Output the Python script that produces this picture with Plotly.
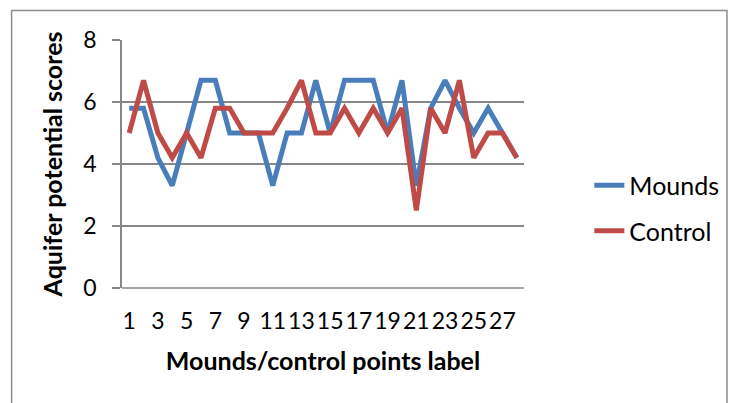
import plotly.graph_objects as go

# Aquifer potential scores at each mound and its paired control point
labels = list(range(1, 29))
mounds = [5.8, 5.8, 4.2, 3.3, 5.0, 6.7, 6.7, 5.0, 5.0, 5.0, 3.3, 5.0, 5.0, 6.7,
          5.0, 6.7, 6.7, 6.7, 5.0, 6.7, 3.3, 5.8, 6.7, 5.8, 5.0, 5.8, 5.0, 4.2]
control = [5.0, 6.7, 5.0, 4.2, 5.0, 4.2, 5.8, 5.8, 5.0, 5.0, 5.0, 5.8, 6.7, 5.0,
           5.0, 5.8, 5.0, 5.8, 5.0, 5.8, 2.5, 5.8, 5.0, 6.7, 4.2, 5.0, 5.0, 4.2]
tick_labels = list(range(1, 29, 2))

FONT = "Lato"
GRID = "#878787"

fig = go.Figure()
fig.add_trace(go.Scatter(x=labels, y=mounds, mode="lines", name="Mounds",
                         legendgroup="m",
                         line=dict(color="#4A7EBB", width=5)))
fig.add_trace(go.Scatter(x=labels, y=control, mode="lines", name="Control",
                         legendgroup="c",
                         line=dict(color="#BE4B48", width=5)))

# plot area in pixels: x 122..528, y 40..288
L, R, T, B = 122, 528, 40, 288
W, H = R - L, B - T

def px(xp):
    return (xp - L) / W

def py(yp):
    return (B - yp) / H

fig.update_layout(
    width=736, height=403,
    margin=dict(l=L, r=736 - R, t=T, b=403 - B),
    paper_bgcolor="white", plot_bgcolor="white",
    font=dict(family=FONT, size=23, color="black"),
    showlegend=True,
    legend=dict(x=px(594), y=py(208), xanchor="left", yanchor="middle",
                tracegroupgap=10, font=dict(size=25),
                bgcolor="rgba(0,0,0,0)"),
    xaxis=dict(
        range=[0.5, 28.5], tickvals=tick_labels, ticktext=[str(t) for t in tick_labels],
        showgrid=False, zeroline=False, showline=False, ticks="",
        ticklabelstandoff=17, tickfont=dict(size=23),
        title=dict(text="<b>Mounds/control points label</b>", font=dict(size=25),
                   standoff=19),
    ),
    yaxis=dict(
        range=[0, 8], dtick=2, showgrid=True, gridcolor=GRID, gridwidth=1.5,
        zeroline=False, showline=True, linecolor=GRID, linewidth=1.5,
        ticks="outside", ticklen=8, tickcolor=GRID, tickwidth=1.5,
        ticklabelstandoff=11, tickfont=dict(size=23),
        title=dict(text="<b>Aquifer potential scores</b>", font=dict(size=25),
                   standoff=14),
    ),
    shapes=[
        # x axis baseline (the 0 gridline)
        dict(type="line", xref="paper", yref="paper", x0=0, x1=1, y0=0, y1=0,
             line=dict(color=GRID, width=1.5)),
        # chart border
        dict(type="rect", xref="paper", yref="paper",
             x0=px(10.5), x1=px(733), y0=py(430), y1=py(10.5),
             line=dict(color="#8C8C8C", width=1.5), layer="below"),
    ],
)

fig.write_html("out.html")
